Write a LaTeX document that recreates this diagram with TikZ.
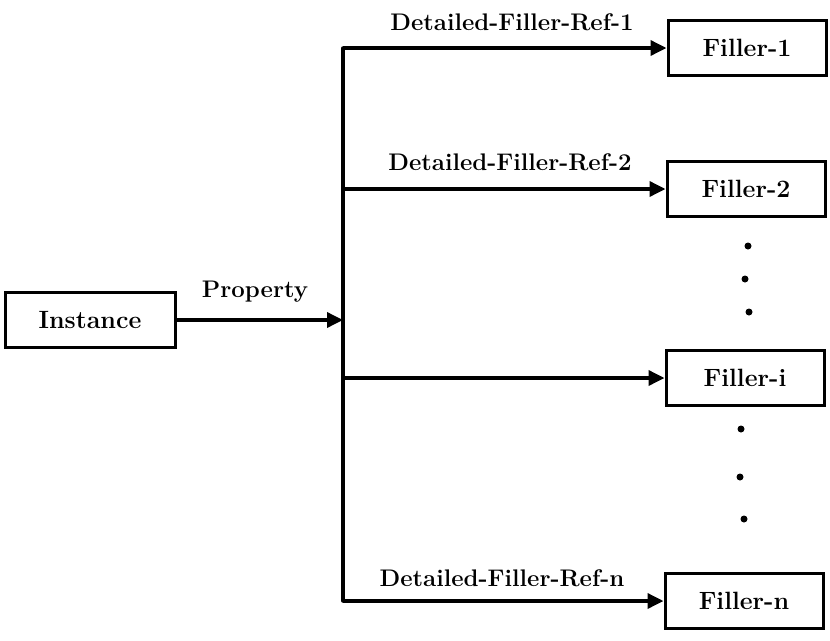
\documentclass[tikz,border=0pt]{standalone}
\usepackage{fix-cm}
\usetikzlibrary{arrows.meta}
\begin{document}
\begin{tikzpicture}[
  x=1pt, y=-1pt,
  box/.style={draw=black, line width=3pt, inner sep=0pt, minimum width=158pt, minimum height=55pt, font=\fontsize{25}{29}\selectfont\bfseries},
  link/.style={line width=3.5pt, draw=black, -{Triangle[length=16pt,width=15pt]}},
  lbl/.style={font=\fontsize{24}{28}\selectfont\bfseries, inner sep=0pt},
  dot/.style={circle, fill=black, inner sep=0pt, minimum size=7pt}
]
  \useasboundingbox (0,0) rectangle (830,640);

  % Cajas
  \node[box, minimum width=170pt] (inst) at (90,320) {Instance};
  \node[box] (f1) at (747,48) {Filler-1};
  \node[box] (f2) at (746,189) {Filler-2};
  \node[box] (fi) at (745,378) {Filler-i};
  \node[box] (fn) at (744,601) {Filler-n};

  % Tronco vertical
  \coordinate (j1) at (343,48);
  \coordinate (j2) at (343,189);
  \coordinate (jp) at (343,320);
  \coordinate (ji) at (343,378);
  \coordinate (jn) at (343,601);
  \draw[line width=3.5pt, line cap=round] (j1) -- (jn);

  % Flechas
  \draw[link] (inst) -- (jp);
  \draw[link] (j1) -- (f1);
  \draw[link] (j2) -- (f2);
  \draw[link] (ji) -- (fi);
  \draw[link] (jn) -- (fn);

  % Etiquetas
  \node[lbl] (lp) at (255,292) {Property};
  \node[lbl] (l1) at (512,22) {Detailed-Filler-Ref-1};
  \node[lbl] (l2) at (510,162) {Detailed-Filler-Ref-2};
  \node[lbl] (ln) at (502,578) {Detailed-Filler-Ref-n};

  % Puntos
  \node[dot] (d1) at (748,246) {};
  \node[dot] (d2) at (745,279) {};
  \node[dot] (d3) at (749,312) {};
  \node[dot] (d4) at (741,429) {};
  \node[dot] (d5) at (740,477) {};
  \node[dot] (d6) at (744,519) {};
\end{tikzpicture}
\end{document}
